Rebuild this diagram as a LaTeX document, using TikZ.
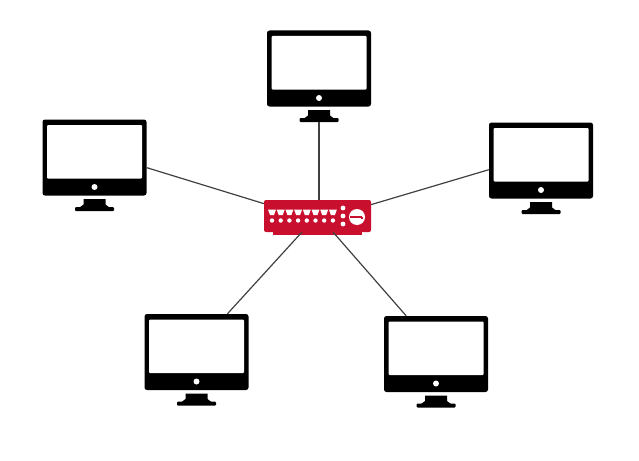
\documentclass[tikz,border=0pt]{standalone}
\usepackage{pgf,tikz}
\definecolor{swred}{HTML}{C8102E}
\tikzset{
  monitor/.style={draw=none,fill=black,rounded corners=2.5pt,inner sep=0pt,minimum width=104pt,minimum height=76pt},
  standbase/.style={draw=none,fill=black,rounded corners=1pt,inner sep=0pt,minimum width=39pt,minimum height=4pt},
  switchbox/.style={draw=none,fill=swred,rounded corners=2pt,inner sep=0pt,minimum width=107pt,minimum height=32pt},
  wire/.style={draw=black!75,line width=1.2pt}
}
\begin{document}
\begin{tikzpicture}[x=1pt,y=-1pt]
\useasboundingbox (0,0) rectangle (639,460);
% the five computers
\foreach \name/\x/\y in {pctop/319/68.5,pcleft/94.5/157.5,pcright/541/160.5,pclow/196.5/352,pcrow/436/354}{
  \node[monitor] (\name) at (\x,\y) {};
  \node[standbase] (\name-base) at (\x,\y+51.5) {};
  \begin{scope}[shift={(\x,\y)}]
    \fill[white,rounded corners=1pt] (-47.5,-32.5) rectangle (47.5,21);
    \fill[white] (0,29.5) circle (3pt);
    \fill[black] (-11,41.5) -- (11,41.5) -- (11,47) -- (15,50) -- (-15,50) -- (-11,47) -- cycle;
  \end{scope}
}
% the switch
\fill[swred] (273,228) rectangle (362,235);
\node[switchbox] (sw) at (317.5,216) {};
\foreach \i in {0,...,7}{
  \fill[white] (268+\i*8.7,209.5) -- (276+\i*8.7,209.5) -- (274+\i*8.7,215) -- (270+\i*8.7,215) -- cycle;
  \fill[white] (272+\i*8.7,220.5) circle (2.2pt);
}
\foreach \y in {208,216,224}{
  \fill[white] (343,\y) circle (2.4pt);
}
\fill[white] (357,217) circle (8pt);
\draw[swred,line width=1.1pt] (350,217) -- (362,217);
\draw[swred,line width=1.1pt] (362,217) -- (362,219);
% the cables
\draw[wire] (sw.north -| pctop) -- (pctop-base.south);
\draw[wire] (sw.167) -- (pcleft.-11);
\draw[wire] (sw.12) -- (pcright.190);
\draw[wire] (sw.226) -- (pclow.51.5);
\draw[wire] (sw.-46) -- (pcrow.128.5);
\end{tikzpicture}
\end{document}
